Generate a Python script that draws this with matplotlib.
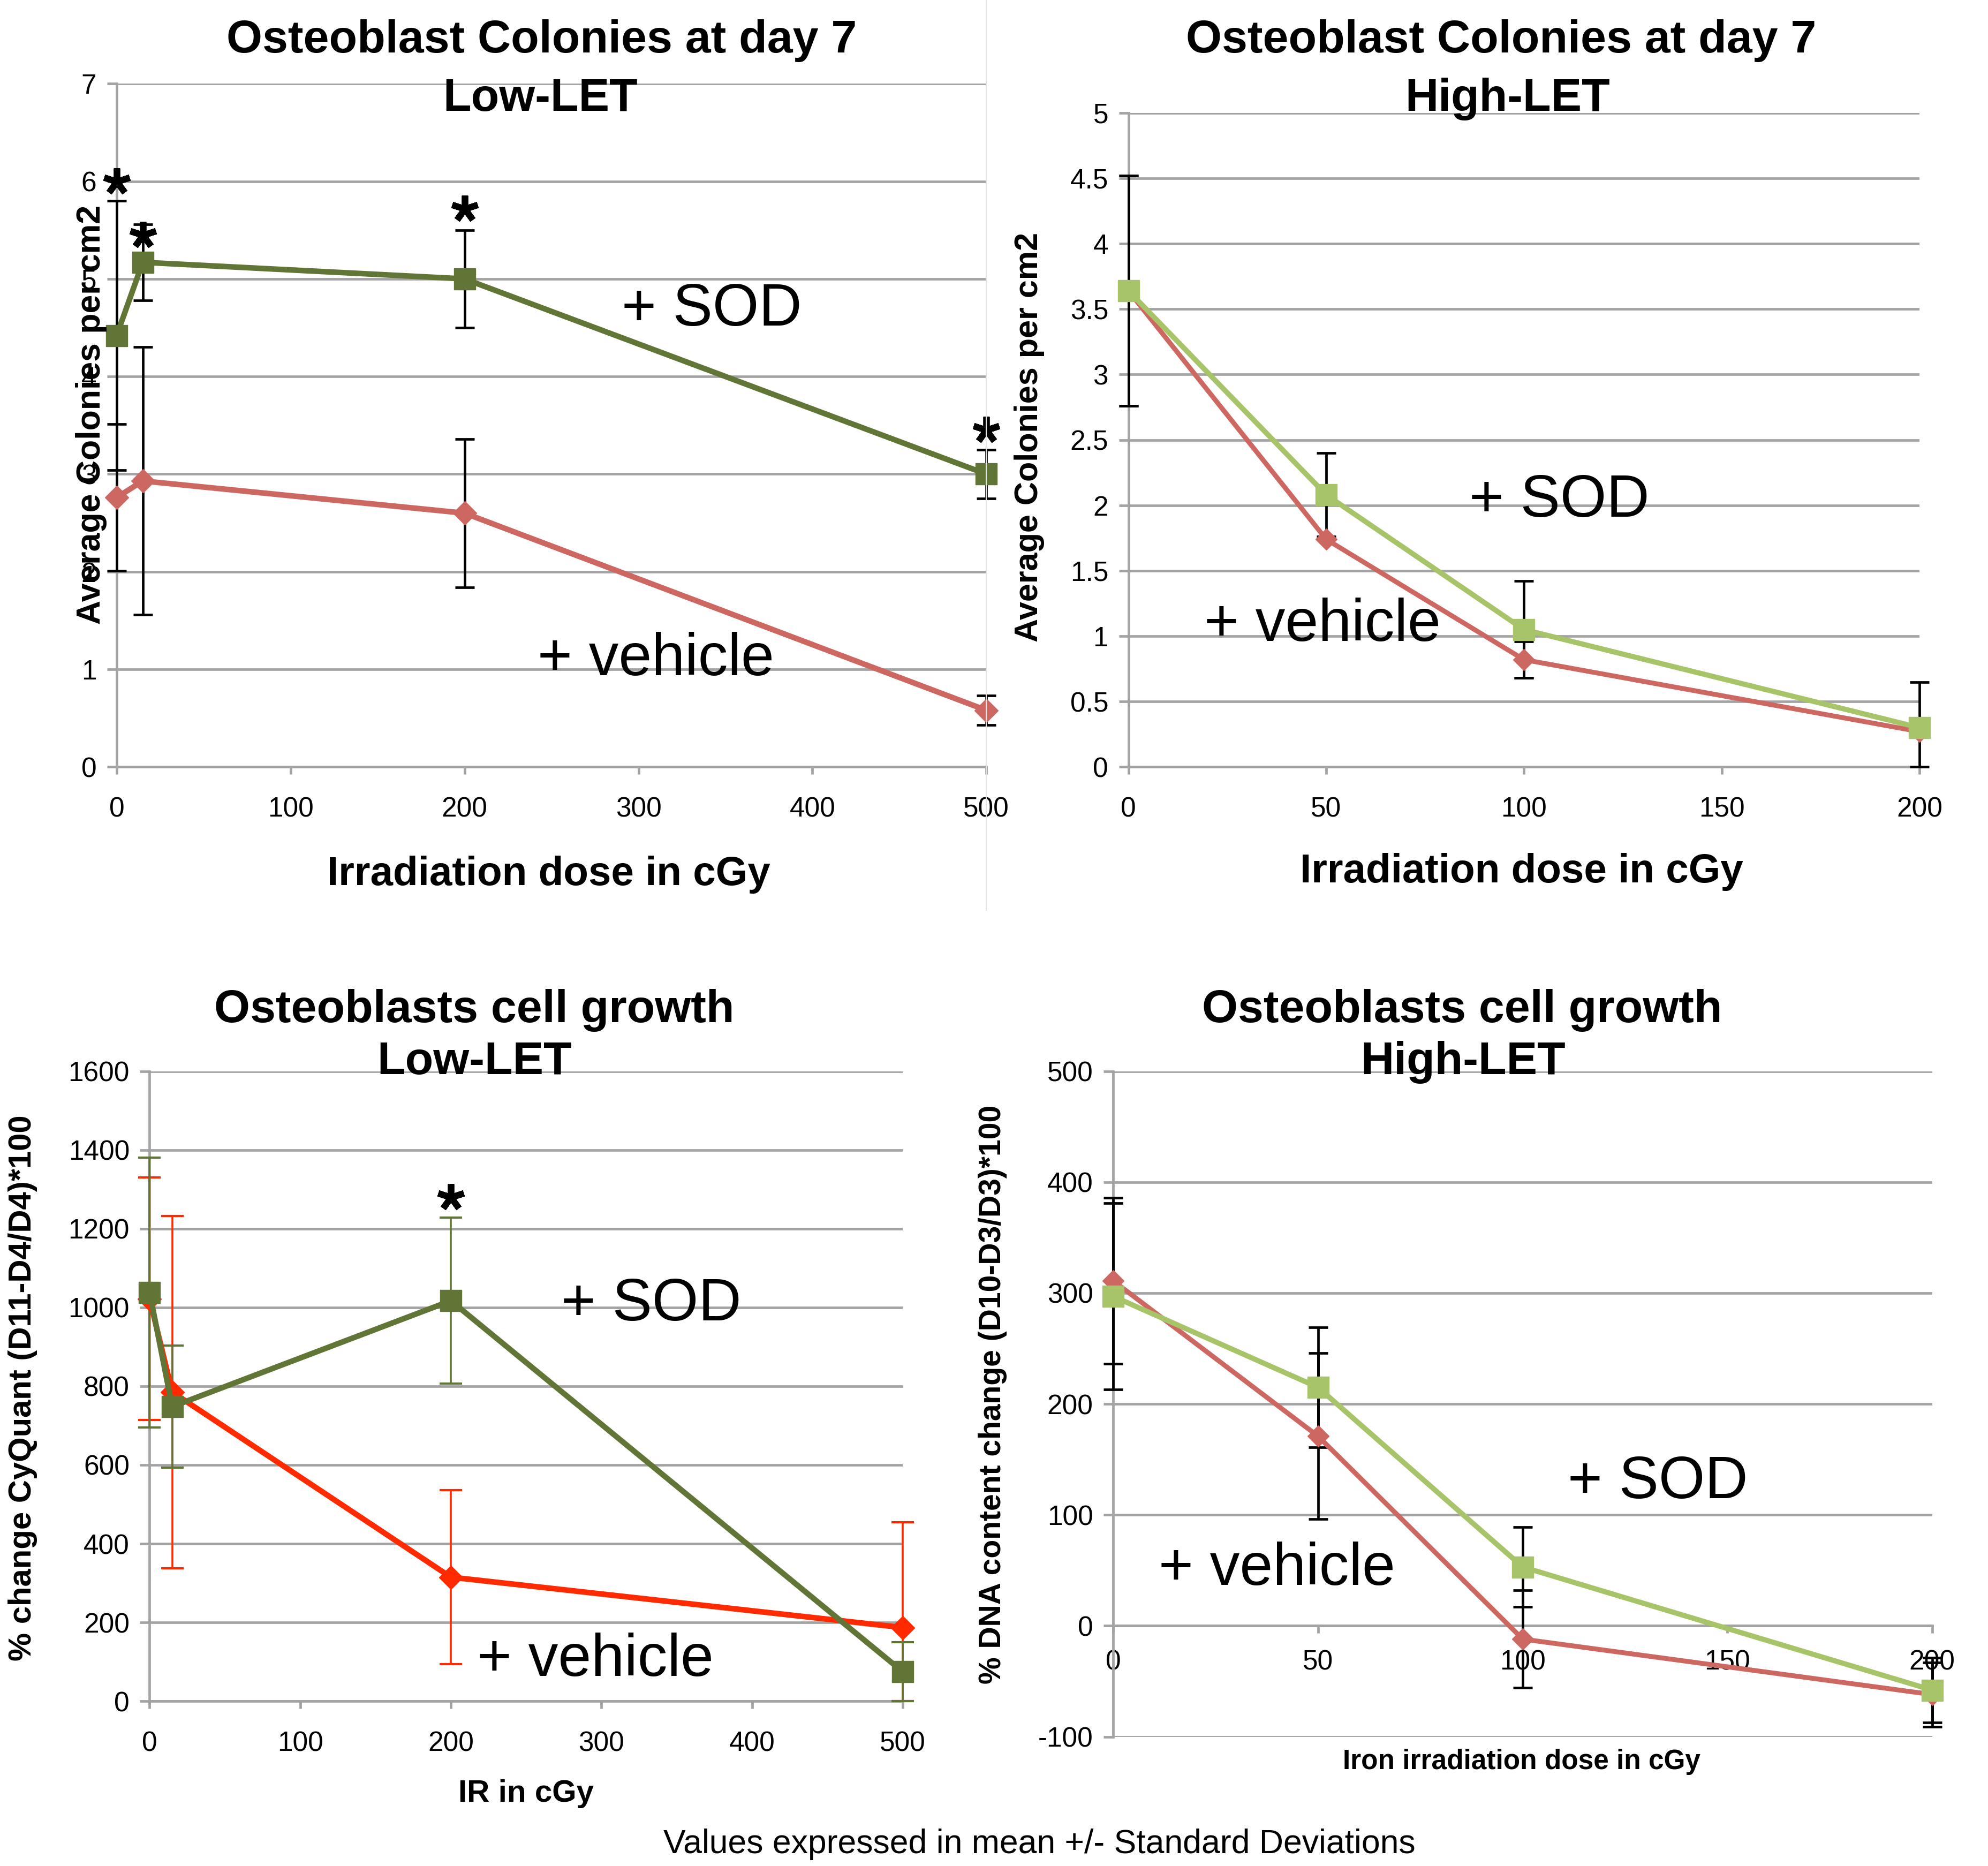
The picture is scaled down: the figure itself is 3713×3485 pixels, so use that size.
import matplotlib
matplotlib.use('Agg')
import matplotlib.pyplot as plt
from matplotlib.lines import Line2D
from matplotlib.ticker import FuncFormatter

plt.rcParams['font.family'] = ['Liberation Sans', 'DejaVu Sans']

# ---------------- data ----------------
# Top-left: Osteoblast colonies, Low-LET
tl_dose = [0, 15, 200, 500]
tl_sod = [4.42, 5.17, 5.00, 3.00]
tl_sod_err = [1.38, 0.39, 0.50, 0.25]
tl_veh = [2.76, 2.93, 2.60, 0.58]
tl_veh_err = [0.75, 1.37, 0.76, 0.15]
tl_star_x = [0, 15, 200, 500]
tl_star_y = [6.0, 5.45, 5.72, 3.45]

# Top-right: Osteoblast colonies, High-LET
tr_dose = [0, 50, 100, 200]
tr_sod = [3.64, 2.08, 1.05, 0.30]
tr_sod_err = [0.88, 0.32, 0.37, 0.35]
tr_veh = [3.64, 1.74, 0.82, 0.27]
tr_veh_err = [0.88, 0.0, 0.14, 0.0]

# Bottom-left: cell growth, Low-LET
bl_dose = [0, 15, 200, 500]
bl_sod = [1038, 748, 1017, 75]
bl_sod_err = [343, 155, 211, 75]
bl_veh = [1022, 785, 315, 187]
bl_veh_err = [308, 447, 221, 267]
bl_star_x = [200]
bl_star_y = [1280]

# Bottom-right: cell growth, High-LET
br_dose = [0, 50, 100, 200]
br_sod = [297, 215, 53, -58]
br_sod_err = [84, 54, 36, 29]
br_veh = [311, 171, -12, -62]
br_veh_err = [75, 75, 44, 29]

# ---------------- styling ----------------
DARK_GREEN = '#617536'
LIGHT_GREEN = '#a8c468'
VEH_RED = '#cd6762'
BRIGHT_RED = '#ff2a00'
GRID = '#a3a3a3'

VW, VH = 1568.0, 1472.0


def fx(x):
    return x / VW


def fy(y):
    return 1 - y / VH


def box(l, r, t, b):
    return [fx(l), fy(b), fx(r) - fx(l), fy(t) - fy(b)]


fig = plt.figure(figsize=(37.13, 34.85), dpi=100)


def style(ax, xlim, ylim, xticks, yticks, xaxis_y=None):
    ax.set_xlim(xlim)
    ax.set_ylim(ylim)
    ax.set_xticks(xticks)
    ax.set_yticks(yticks)
    ax.yaxis.set_major_formatter(FuncFormatter(lambda v, p: '%g' % v))
    for s in ['top', 'right']:
        ax.spines[s].set_visible(False)
    for s in ['left', 'bottom']:
        ax.spines[s].set_color(GRID)
        ax.spines[s].set_linewidth(3.4)
    if xaxis_y is not None:
        ax.spines['bottom'].set_position(('data', xaxis_y))
    ax.grid(axis='y', color=GRID, lw=3.4)
    ax.set_axisbelow(True)
    ax.tick_params(axis='x', color=GRID, width=3.4, length=10, labelsize=37, pad=30)
    ax.tick_params(axis='y', color=GRID, width=3.4, length=13, labelsize=37, pad=14)


def errs(vals, err, ymin):
    lo = [min(e, v - ymin) for v, e in zip(vals, err)]
    return [lo, err]


EB = dict(fmt='none', elinewidth=3.4, capsize=13, capthick=3.4, zorder=3, clip_on=False)

# ---------- Top-left ----------
ax = fig.add_axes(box(92, 778, 66, 605))
style(ax, (0, 500), (0, 7), [0, 100, 200, 300, 400, 500], range(0, 8))
ax.errorbar(tl_dose, tl_veh, yerr=errs(tl_veh, tl_veh_err, 0), ecolor='black', **EB)
ax.errorbar(tl_dose, tl_sod, yerr=errs(tl_sod, tl_sod_err, 0), ecolor='black', **EB)
ax.plot(tl_dose, tl_veh, color=VEH_RED, lw=7.5, marker='D', ms=22, zorder=4, clip_on=False)
ax.plot(tl_dose, tl_sod, color=DARK_GREEN, lw=7.5, marker='s', ms=29, zorder=5, clip_on=False)
ax.plot(tl_star_x, tl_star_y, ls='none', marker=(5, 2, 0), ms=36, mew=8.5, color='black',
        zorder=6, clip_on=False)
ax.text(342, 4.68, '+ SOD', fontsize=80, ha='center', va='center', zorder=7)
ax.text(310, 1.10, '+ vehicle', fontsize=80, ha='center', va='center', zorder=7)

# ---------- Top-right ----------
ax = fig.add_axes(box(890, 1514, 89, 605))
style(ax, (0, 200), (0, 5), [0, 50, 100, 150, 200], [i * 0.5 for i in range(11)])
ax.errorbar(tr_dose, tr_veh, yerr=errs(tr_veh, tr_veh_err, 0), ecolor='black', **EB)
ax.errorbar(tr_dose, tr_sod, yerr=errs(tr_sod, tr_sod_err, 0), ecolor='black', **EB)
ax.plot(tr_dose, tr_veh, color=VEH_RED, lw=6.5, marker='D', ms=20, zorder=4, clip_on=False)
ax.plot(tr_dose, tr_sod, color=LIGHT_GREEN, lw=7, marker='s', ms=29, zorder=5, clip_on=False)
ax.text(109, 2.03, '+ SOD', fontsize=80, ha='center', va='center', zorder=7)
ax.text(49, 1.08, '+ vehicle', fontsize=80, ha='center', va='center', zorder=7)

# ---------- Bottom-left ----------
ax = fig.add_axes(box(118, 712, 845, 1342))
style(ax, (0, 500), (0, 1600), [0, 100, 200, 300, 400, 500], range(0, 1601, 200))
ax.errorbar(bl_dose, bl_veh, yerr=errs(bl_veh, bl_veh_err, 0), ecolor=BRIGHT_RED,
            fmt='none', elinewidth=2.6, capsize=15, capthick=3.0, zorder=3, clip_on=False)
ax.errorbar(bl_dose, bl_sod, yerr=errs(bl_sod, bl_sod_err, 0), ecolor=DARK_GREEN,
            fmt='none', elinewidth=2.6, capsize=15, capthick=3.0, zorder=3, clip_on=False)
ax.plot(bl_dose, bl_veh, color=BRIGHT_RED, lw=7.5, marker='D', ms=22, zorder=4, clip_on=False)
ax.plot(bl_dose, bl_sod, color=DARK_GREEN, lw=7.5, marker='s', ms=29, zorder=5, clip_on=False)
ax.plot(bl_star_x, bl_star_y, ls='none', marker=(5, 2, 0), ms=36, mew=8.5, color='black',
        zorder=6, clip_on=False)
ax.text(333, 1006, '+ SOD', fontsize=80, ha='center', va='center', zorder=7)
ax.text(296, 103, '+ vehicle', fontsize=80, ha='center', va='center', zorder=7)

# ---------- Bottom-right ----------
ax = fig.add_axes(box(878, 1524, 845, 1370))
style(ax, (0, 200), (-100, 500), [0, 50, 100, 150, 200], range(-100, 501, 100), xaxis_y=0)
ax.errorbar(br_dose, br_veh, yerr=errs(br_veh, br_veh_err, -100), ecolor='black', **EB)
ax.errorbar(br_dose, br_sod, yerr=errs(br_sod, br_sod_err, -100), ecolor='black', **EB)
ax.plot(br_dose, br_veh, color=VEH_RED, lw=6.5, marker='D', ms=20, zorder=4, clip_on=False)
ax.plot(br_dose, br_sod, color=LIGHT_GREEN, lw=7, marker='s', ms=29, zorder=5, clip_on=False)
ax.text(133, 129, '+ SOD', fontsize=80, ha='center', va='center', zorder=7)
ax.text(40, 51, '+ vehicle', fontsize=80, ha='center', va='center', zorder=7)
ax.tick_params(axis='x', pad=22)

# ---------- titles & labels ----------
TB = dict(fontsize=62, fontweight='bold', ha='center', va='center')
fig.text(fx(427), fy(32), 'Osteoblast Colonies at day 7', **TB)
fig.text(fx(426), fy(78), 'Low-LET', **TB)
fig.text(fx(1184), fy(32), 'Osteoblast Colonies at day 7', **TB)
fig.text(fx(1189), fy(78), 'High-LET', **TB)
fig.text(fx(374), fy(797), 'Osteoblasts cell growth', **TB)
fig.text(fx(374), fy(838), 'Low-LET', **TB)
fig.text(fx(1153), fy(797), 'Osteoblasts cell growth', **TB)
fig.text(fx(1154), fy(838), 'High-LET', **TB)

YL = dict(fontweight='bold', ha='center', va='center', rotation=90)
fig.text(fx(72), fy(327), 'Average Colonies per cm2', fontsize=45, **YL)
fig.text(fx(812), fy(345), 'Average Colonies per cm2', fontsize=44, **YL)
fig.text(fx(18), fy(1095), '% change CyQuant (D11-D4/D4)*100', fontsize=43, **YL)
fig.text(fx(783), fy(1100), '% DNA content change (D10-D3/D3)*100', fontsize=41, **YL)

fig.text(fx(433), fy(690), 'Irradiation dose in cGy', fontsize=55, fontweight='bold', ha='center', va='center')
fig.text(fx(1200), fy(688), 'Irradiation dose in cGy', fontsize=55, fontweight='bold', ha='center', va='center')
fig.text(fx(415), fy(1415), 'IR in cGy', fontsize=42, fontweight='bold', ha='center', va='center')
fig.text(fx(1200), fy(1390), 'Iron irradiation dose in cGy', fontsize=37, fontweight='bold', ha='center', va='center')
fig.text(fx(820), fy(1455), 'Values expressed in mean +/- Standard Deviations', fontsize=45, ha='center', va='center')

fig.add_artist(Line2D([fx(778), fx(778)], [1, fy(718)], color='#e4e4e4', lw=1.5))

fig.savefig('out.png', dpi=100, facecolor='white')
